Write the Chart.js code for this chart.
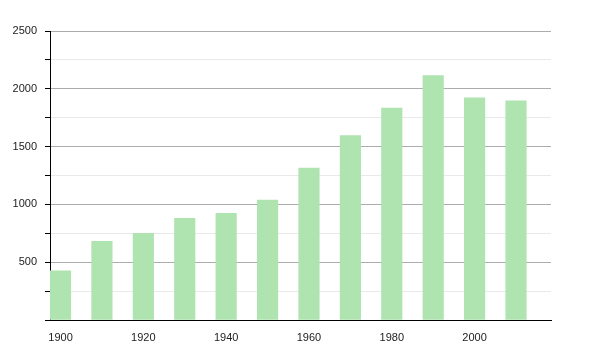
<!DOCTYPE html>
<html>
<head>
<meta charset="utf-8">
<script src="https://cdn.jsdelivr.net/npm/chart.js@4/dist/chart.umd.min.js"></script>
<style>
  html, body { margin: 0; padding: 0; background: #fff; }
  #wrap { width: 600px; height: 350px; }
</style>
</head>
<body>
<div id="wrap"><canvas id="popChart" width="600" height="350"></canvas></div>
<script>
const YEARS = [1900, 1910, 1920, 1930, 1940, 1950, 1960, 1970, 1980, 1990, 2000, 2010];
const POPULATION = [425, 681, 750, 879, 922, 1037, 1315, 1595, 1833, 2115, 1922, 1897];
const X_TICKS = [1900, 1920, 1940, 1960, 1980, 2000];
const Y_LABELS = [500, 1000, 1500, 2000, 2500];

const BAR_COLOR = '#afe3b0';
const FONT = { family: '"Liberation Sans", Arial, sans-serif', size: 11 };

new Chart(document.getElementById('popChart').getContext('2d'), {
  type: 'bar',
  data: {
    datasets: [{
      data: YEARS.map((y, i) => ({ x: y, y: POPULATION[i] })),
      backgroundColor: BAR_COLOR,
      borderWidth: 0,
      barThickness: 20.5,
    }],
  },
  options: {
    responsive: false,
    animation: false,
    layout: { padding: { top: 31, right: 49, bottom: 0, left: 0 } },
    plugins: { legend: { display: false }, tooltip: { enabled: false } },
    scales: {
      x: {
        type: 'linear',
        offset: false,
        min: 1897.46,
        max: 2018.45,
        afterBuildTicks: scale => { scale.ticks = X_TICKS.map(v => ({ value: v })); },
        afterFit: scale => { scale.height = 30; },
        grid: { display: false, offset: false },
        border: { display: true, color: '#000', width: 1 },
        ticks: { color: '#222', font: FONT, padding: 3, maxRotation: 0, callback: v => String(v) },
      },
      y: {
        min: 0,
        max: 2500,
        afterFit: scale => { scale.width = 50; },
        grid: {
          color: ctx => (ctx.tick.value % 500 === 0 ? '#acacac' : '#e9e9e9'),
          tickColor: '#000',
          tickLength: 5,
        },
        border: { display: true, color: '#000', width: 1 },
        ticks: {
          stepSize: 250,
          color: '#222',
          font: FONT,
          padding: 8,
          callback: v => (Y_LABELS.includes(v) ? String(v) : ''),
        },
      },
    },
  },
});
</script>
</body>
</html>
